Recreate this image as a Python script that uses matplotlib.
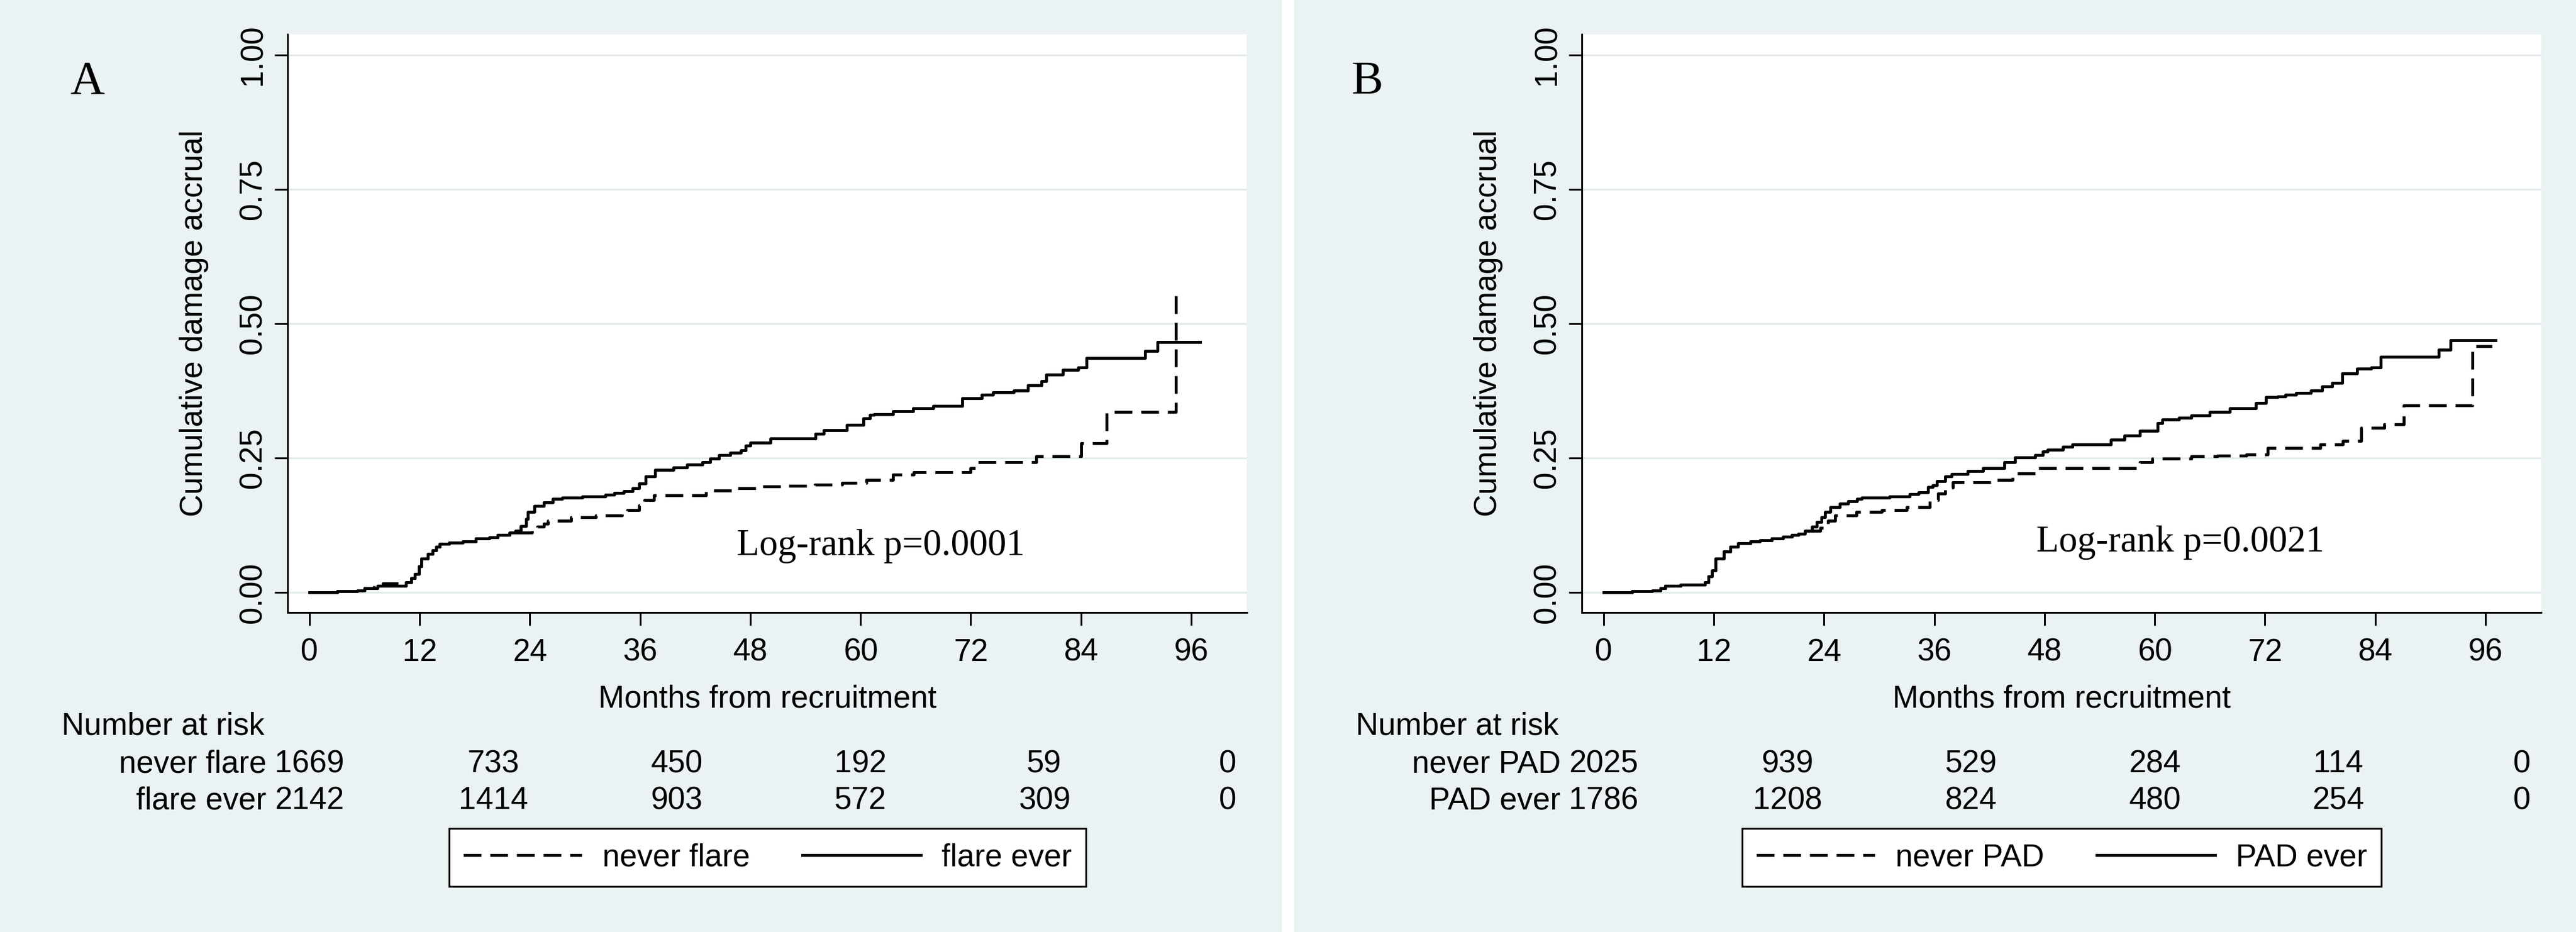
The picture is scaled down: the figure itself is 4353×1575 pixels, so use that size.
import matplotlib.pyplot as plt
from matplotlib.patches import Rectangle
from matplotlib.transforms import blended_transform_factory

plt.rcParams['font.family'] = ['Liberation Sans', 'DejaVu Sans']

# Panel A - flare ever (solid), step curve
t_flare_ever = [0, 3.0, 5.2, 6.0, 7.4, 10.5, 11.1, 11.5, 11.9, 12.2,
                12.9, 13.4, 13.8, 14.2, 15.2, 16.7, 18.1, 19.6, 20.5, 21.8,
                22.4, 23.0, 23.6, 23.8, 24.5, 25.5, 26.5, 27.5, 29.7, 32.2,
                33.2, 34.2, 35.2, 35.9, 36.6, 37.6, 39.6, 41.1, 42.8, 43.6,
                44.6, 45.8, 47.0, 47.5, 48.0, 50.2, 55.1, 56.0, 58.5, 60.3,
                61.0, 61.5, 63.5, 65.7, 67.9, 71.1, 73.2, 74.4, 76.7, 78.2,
                79.7, 80.2, 82.0, 83.7, 84.6, 91.0, 92.3, 97.0]
y_flare_ever = [0, 0.003, 0.004, 0.008, 0.012, 0.019, 0.027, 0.034, 0.049, 0.063,
                0.072, 0.078, 0.085, 0.091, 0.093, 0.095, 0.100, 0.103, 0.107, 0.111,
                0.115, 0.124, 0.137, 0.150, 0.161, 0.168, 0.174, 0.177, 0.179, 0.182,
                0.185, 0.189, 0.194, 0.203, 0.216, 0.228, 0.233, 0.238, 0.242, 0.249,
                0.256, 0.260, 0.264, 0.273, 0.279, 0.286, 0.295, 0.302, 0.312, 0.324,
                0.330, 0.332, 0.337, 0.343, 0.347, 0.361, 0.368, 0.372, 0.376, 0.385,
                0.393, 0.405, 0.414, 0.419, 0.436, 0.449, 0.466, 0.466]

# Panel A - never flare (dashed)
t_never_flare = [0, 3.0, 5.2, 6.0, 7.0, 8.0, 10.6, 11.1, 11.5, 11.9,
                 12.2, 12.9, 13.4, 13.8, 14.2, 15.2, 16.7, 18.1, 19.6, 20.5,
                 21.8, 24.2, 24.8, 25.5, 26.0, 28.5, 31.2, 34.0, 34.6, 35.9,
                 36.5, 37.5, 43.2, 46.0, 48.8, 52.0, 55.0, 58.0, 60.6, 63.5,
                 65.8, 72.0, 72.6, 79.1, 84.0, 86.8, 94.3, 94.8]
y_never_flare = [0, 0.003, 0.004, 0.008, 0.012, 0.017, 0.019, 0.027, 0.034, 0.049,
                 0.063, 0.072, 0.078, 0.085, 0.091, 0.093, 0.095, 0.100, 0.103, 0.107,
                 0.111, 0.117, 0.122, 0.128, 0.134, 0.140, 0.144, 0.148, 0.153, 0.162,
                 0.172, 0.181, 0.190, 0.194, 0.197, 0.199, 0.201, 0.204, 0.210, 0.219,
                 0.224, 0.232, 0.242, 0.254, 0.278, 0.336, 0.561, 0.561]

# Panel B - PAD ever (solid)
t_pad_ever = [0, 3.1, 5.3, 6.2, 6.7, 8.4, 11.0, 11.4, 11.8, 12.2,
              13.1, 13.8, 14.6, 16.0, 17.0, 18.3, 19.5, 20.5, 21.2, 21.9,
              22.7, 23.2, 23.7, 24.1, 24.7, 25.7, 26.6, 27.6, 28.1, 31.1,
              33.3, 34.3, 35.3, 35.8, 36.3, 37.2, 37.9, 39.6, 41.3, 43.6,
              44.8, 47.0, 47.8, 48.3, 50.0, 51.0, 55.2, 56.7, 58.4, 60.3,
              60.8, 62.6, 64.0, 66.0, 68.2, 71.0, 72.1, 73.4, 74.2, 75.4,
              77.0, 78.2, 79.3, 80.4, 82.0, 83.6, 84.6, 90.9, 92.2, 97.1]
y_pad_ever = [0, 0.003, 0.004, 0.008, 0.012, 0.015, 0.019, 0.030, 0.041, 0.063,
              0.076, 0.085, 0.092, 0.095, 0.097, 0.101, 0.104, 0.107, 0.109, 0.115,
              0.122, 0.131, 0.140, 0.150, 0.159, 0.166, 0.170, 0.174, 0.177, 0.179,
              0.183, 0.186, 0.196, 0.200, 0.207, 0.216, 0.221, 0.226, 0.231, 0.243,
              0.251, 0.256, 0.262, 0.266, 0.271, 0.275, 0.284, 0.292, 0.301, 0.315,
              0.322, 0.325, 0.329, 0.336, 0.343, 0.353, 0.363, 0.365, 0.368, 0.371,
              0.376, 0.383, 0.390, 0.407, 0.416, 0.419, 0.438, 0.452, 0.469, 0.469]

# Panel B - never PAD (dashed)
t_never_pad = [0, 3.1, 5.3, 6.2, 6.7, 8.4, 11.0, 11.4, 11.8, 12.2,
               13.1, 13.8, 14.6, 16.0, 17.0, 18.3, 19.5, 20.5, 21.2, 21.9,
               23.6, 24.0, 24.4, 25.2, 27.5, 30.3, 33.0, 35.5, 36.4, 37.2,
               38.0, 42.4, 44.5, 47.3, 58.4, 59.7, 64.0, 66.8, 70.0, 72.3,
               78.0, 80.5, 82.5, 85.0, 87.1, 94.6, 96.7]
y_never_pad = [0, 0.003, 0.004, 0.008, 0.012, 0.015, 0.019, 0.030, 0.041, 0.063,
               0.076, 0.085, 0.092, 0.095, 0.097, 0.101, 0.104, 0.107, 0.109, 0.115,
               0.120, 0.126, 0.133, 0.144, 0.150, 0.153, 0.159, 0.172, 0.184, 0.195,
               0.205, 0.210, 0.222, 0.232, 0.242, 0.249, 0.253, 0.255, 0.257, 0.269,
               0.276, 0.282, 0.306, 0.313, 0.348, 0.458, 0.458]

# Number at risk table
risk_times = [0, 20, 40, 60, 80, 100]
risk_never_flare = [1669, 733, 450, 192, 59, 0]
risk_flare_ever = [2142, 1414, 903, 572, 309, 0]
risk_never_pad = [2025, 939, 529, 284, 114, 0]
risk_pad_ever = [1786, 1208, 824, 480, 254, 0]

x_ticks = list(range(0, 97, 12))
y_ticks = [0, 0.25, 0.5, 0.75, 1.0]
y_ticklabels = ['0.00', '0.25', '0.50', '0.75', '1.00']

W, H = 4353, 1575
BG = '#eaf2f3'
GRID = '#e1eaed'
FS = 38
LW = 3.6


def fx(px):
    return px / W


def fy(py):
    return 1 - py / H


fig = plt.figure(figsize=(W / 100, H / 100), dpi=100, facecolor='white')


def draw_panel(x0, letter, letter_x, t0, y0, lab0, risk0, t1, y1, lab1, risk1, ptext, ppos):
    # grey-blue graph region
    fig.patches.append(Rectangle((fx(x0), 0), fx(2166), 1, transform=fig.transFigure,
                                 facecolor=BG, edgecolor='none', zorder=-10))
    ax = fig.add_axes([fx(x0 + 486), fy(1035), fx(1621), (1035 - 58) / H])
    ax.set_facecolor('white')

    l0, = ax.step(t0, y0, where='post', color='black', lw=LW,
                  linestyle=(0, (6.0, 3.0)), label=lab0)
    l1, = ax.step(t1, y1, where='post', color='black', lw=LW, label=lab1)

    ax.set_xlim(-2.38, 102.06)
    ax.set_ylim(-0.037, 1.038)
    ax.set_xticks(x_ticks)
    ax.set_yticks(y_ticks)
    ax.set_yticklabels(y_ticklabels, rotation=90, va='center', ha='center')
    ax.tick_params(axis='both', direction='out', length=15.8, width=2.2,
                   labelsize=FS, color='black')
    ax.tick_params(axis='y', pad=26.5)
    ax.tick_params(axis='x', pad=15)
    ax.grid(axis='y', color=GRID, lw=2.2)
    ax.set_axisbelow(True)
    for s in ['top', 'right']:
        ax.spines[s].set_visible(False)
    for s in ['left', 'bottom']:
        ax.spines[s].set_linewidth(2.2)
        ax.spines[s].set_color('black')

    ax.set_xlabel('Months from recruitment', fontsize=FS)
    ax.xaxis.label.set_va('baseline')
    ax.xaxis.set_label_coords(0.5, (1035 - 1196) / 977)
    ax.set_ylabel('Cumulative damage accrual', fontsize=FS, va='center')
    ax.yaxis.set_label_coords((328 - 486) / 1621, 0.5)

    ax.text(ppos[0], ppos[1], ptext, family='Liberation Serif', fontsize=45,
            ha='center', va='baseline')
    fig.text(fx(letter_x), fy(159), letter, family='Liberation Serif', fontsize=58,
             ha='left', va='baseline')

    # risk table
    trans = blended_transform_factory(ax.transData, fig.transFigure)
    fig.text(fx(x0 + 104), fy(1242), 'Number at risk', fontsize=FS, va='baseline')
    for name, counts, ybase in [(lab0, risk0, 1305), (lab1, risk1, 1367)]:
        fig.text(fx(x0 + 450), fy(ybase), name, fontsize=FS, ha='right', va='baseline')
        for t, n in zip(risk_times, counts):
            ax.text(t, fy(ybase), str(n), transform=trans, fontsize=FS,
                    ha='center', va='baseline')

    leg = ax.legend(handles=[l0, l1], loc='center', ncol=2,
                    bbox_to_anchor=(fx(x0 + 1297), fy(1449)), bbox_transform=fig.transFigure,
                    fontsize=FS, frameon=True, fancybox=False, edgecolor='black',
                    framealpha=1, borderpad=0.45, handlelength=3.8, handletextpad=0.66,
                    columnspacing=1.67, borderaxespad=0)
    leg.get_frame().set_linewidth(2.2)
    return ax


draw_panel(0, 'A', 118, t_never_flare, y_never_flare, 'never flare', risk_never_flare,
           t_flare_ever, y_flare_ever, 'flare ever', risk_flare_ever,
           'Log-rank p=0.0001', (62.2, 0.0697))
draw_panel(2187, 'B', 2284, t_never_pad, y_never_pad, 'never PAD', risk_never_pad,
           t_pad_ever, y_pad_ever, 'PAD ever', risk_pad_ever,
           'Log-rank p=0.0021', (62.8, 0.0763))

fig.savefig('out.png', dpi=100, facecolor='white')
